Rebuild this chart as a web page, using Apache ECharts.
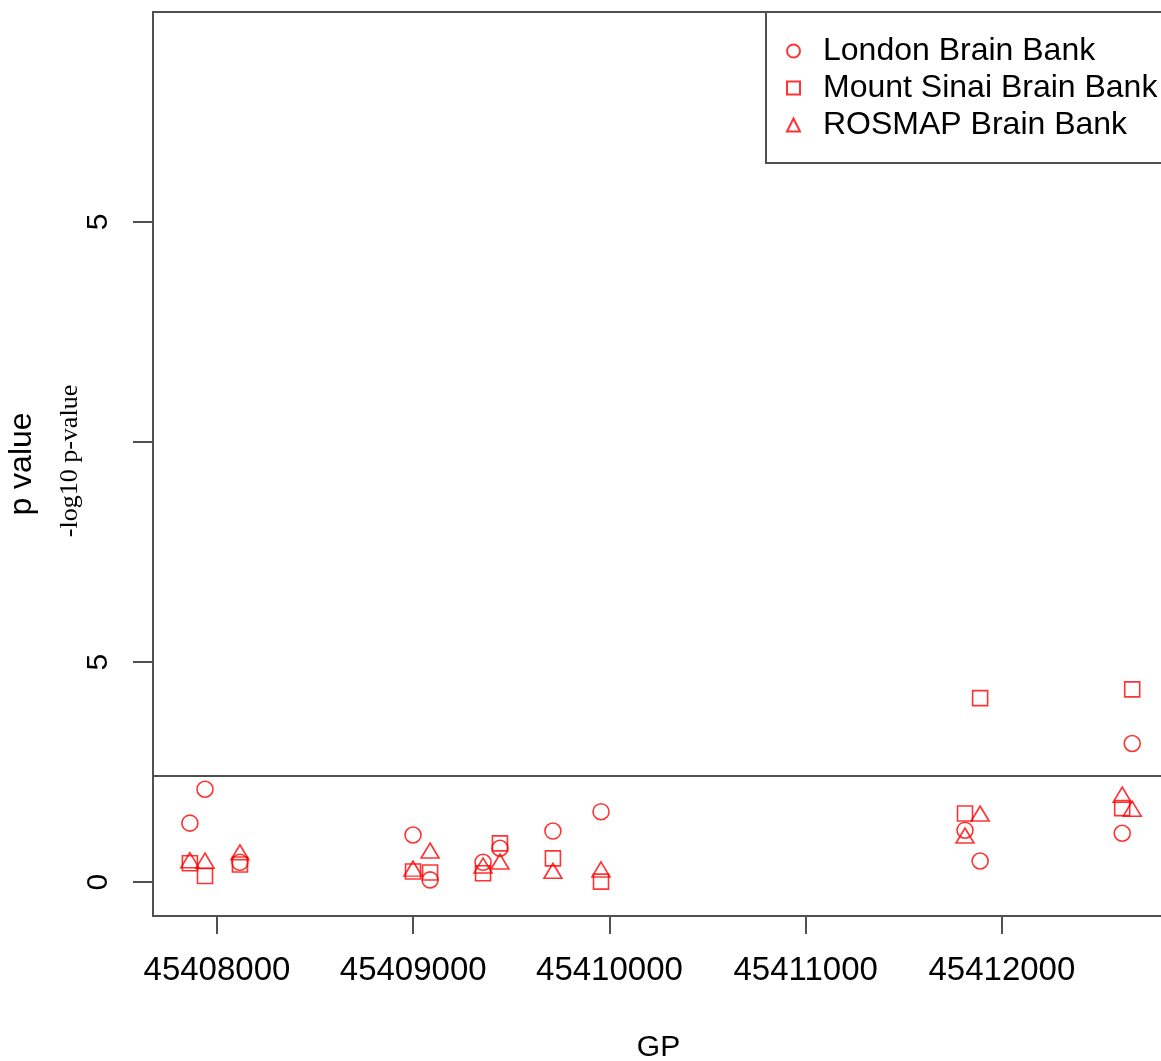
<!DOCTYPE html>
<html>
<head>
<meta charset="utf-8">
<title>p value by GP</title>
<script src="https://cdn.jsdelivr.net/npm/echarts@6/dist/echarts.min.js"></script>
<style>
  html, body { margin: 0; padding: 0; background: #ffffff; }
  #chart { width: 1161px; height: 1061px; }
</style>
</head>
<body>
<div id="chart"></div>
<script>
// Genomic positions of the 13 tested variants
const gp = [45407862, 45407939, 45408117, 45408999, 45409086, 45409356, 45409442,
            45409712, 45409957, 45411812, 45411889, 45412613, 45412664];

// -log10 p-values per brain bank, one per position above
const london     = [1.34, 2.11, 0.45, 1.07, 0.05, 0.45, 0.77, 1.16, 1.60, 1.18, 0.48, 1.11, 3.15];
const mountSinai = [0.43, 0.14, 0.40, 0.24, 0.22, 0.20, 0.88, 0.54, 0.01, 1.56, 4.18, 1.68, 4.38];
const rosmap     = [0.44, 0.43, 0.62, 0.25, 0.66, 0.32, 0.41, 0.20, 0.23, 1.00, 1.50, 1.93, 1.61];

const seriesNames = ['London Brain Bank', 'Mount Sinai Brain Bank', 'ROSMAP Brain Bank'];

// Significance threshold (Bonferroni over 13 variants)
const threshold = 2.41;

// Axis ticks and their printed labels
const xTicks = [45408000, 45409000, 45410000, 45411000, 45412000];
const yTicks = [0, 5, 10, 15];
const yTickLabels = ['0', '5', '', '5'];

const RED = '#ff0000';
const AXIS = '#505050';
const SANS = '"Liberation Sans", Arial, Helvetica, sans-serif';

function pairs(vals) {
  return gp.map((g, i) => [g, vals[i]]);
}

function hollow(name, vals, symbol, size, offset) {
  return {
    name: name,
    type: 'scatter',
    data: pairs(vals),
    symbol: symbol,
    symbolSize: size,
    symbolOffset: offset || [0, 0],
    itemStyle: { color: 'transparent', borderColor: RED, borderWidth: 1.6 },
    emphasis: { disabled: true }
  };
}

const chart = echarts.init(document.getElementById('chart'), null, { renderer: 'canvas' });

const series = [
  hollow(seriesNames[0], london, 'circle', 16),
  hollow(seriesNames[1], mountSinai, 'rect', 15),
  hollow(seriesNames[2], rosmap, 'triangle', [18, 15], [0, -2.5])
];

series[0].markLine = {
  silent: true,
  symbol: ['none', 'none'],
  label: { show: false },
  lineStyle: { color: AXIS, width: 2, type: 'solid' },
  data: [{ yAxis: threshold }]
};

chart.setOption({
  animation: false,
  backgroundColor: '#ffffff',
  grid: {
    left: 153, top: 12, width: 1011, height: 904,
    outerBoundsMode: 'none',
    containLabel: false,
    show: true, borderColor: AXIS, borderWidth: 2, backgroundColor: 'transparent'
  },
  legend: {
    orient: 'vertical',
    left: 766, top: 12,
    padding: [22, 20, 21, 20],
    backgroundColor: '#ffffff',
    borderColor: AXIS, borderWidth: 2,
    itemWidth: 13, itemHeight: 13,
    itemGap: 3,
    textStyle: { fontFamily: SANS, fontSize: 32, color: '#000', lineHeight: 34, padding: [0, 0, 0, 18] },
    data: seriesNames
  },
  xAxis: {
    type: 'value',
    min: 45407674, max: 45412826,
    name: 'GP',
    nameLocation: 'middle',
    nameGap: 117,
    nameTextStyle: { fontFamily: SANS, fontSize: 30, color: '#000' },
    axisLine: { show: false, onZero: false },
    axisTick: { show: true, length: 18, lineStyle: { color: AXIS, width: 2 }, customValues: xTicks },
    axisLabel: { margin: 38, fontFamily: SANS, fontSize: 33, color: '#000', customValues: xTicks,
                 formatter: v => String(v) },
    splitLine: { show: false }
  },
  yAxis: {
    type: 'value',
    min: -0.77, max: 19.77,
    name: 'p value',
    nameLocation: 'middle',
    nameGap: 115,
    nameRotate: 90,
    nameTextStyle: { fontFamily: SANS, fontSize: 32, color: '#000' },
    axisLine: { show: false, onZero: false },
    axisTick: { show: true, length: 20, lineStyle: { color: AXIS, width: 2 }, customValues: yTicks },
    axisLabel: {
      margin: 39, rotate: 90, fontFamily: SANS, fontSize: 30, color: '#000',
      customValues: yTicks,
      formatter: v => yTickLabels[yTicks.indexOf(v)] ?? ''
    },
    splitLine: { show: false }
  },
  graphic: [{
    type: 'text',
    x: 70, y: 461,
    rotation: Math.PI / 2,
    style: {
      text: '-log10 p-value',
      font: '26px "Liberation Serif", "Times New Roman", serif',
      fill: '#000',
      align: 'center',
      verticalAlign: 'middle'
    }
  }],
  series: series
});
</script>
</body>
</html>
